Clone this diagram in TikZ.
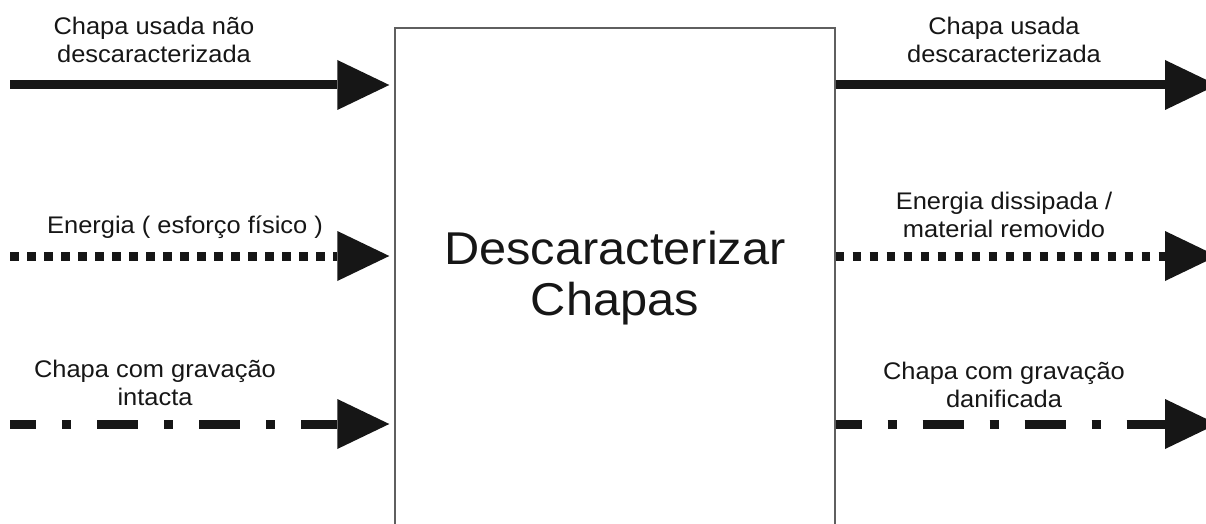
\documentclass[tikz,border=0pt]{standalone}
\usepackage{fontspec}
\setmainfont[FakeStretch=1.06]{Liberation Sans}
\usepackage{tikz}
\usetikzlibrary{arrows.meta}

\definecolor{boxgray}{RGB}{95,95,95}
\definecolor{inkblack}{RGB}{22,22,22}

\tikzset{
  flowlbl/.style={align=center, inner sep=0pt, anchor=base, text=inkblack,
    font=\fontsize{24}{28}\selectfont},
  procbox/.style={draw=boxgray, line width=1.4pt, minimum width=440pt,
    minimum height=500pt, inner sep=0pt, align=center, text=inkblack,
    font=\fontsize{46}{51}\selectfont},
  flow/.style={line width=9pt, draw=inkblack,
    -{Triangle[length=52pt,width=50pt,line width=0pt 0]}},
  solidflow/.style={flow},
  dotflow/.style={flow, dash pattern=on 8.5pt off 8.5pt},
  dashdotflow/.style={flow, dash pattern=on 41pt off 26pt on 9pt off 26pt, dash phase=15pt},
}

\begin{document}
\begin{tikzpicture}[x=1pt,y=-1pt]
  \useasboundingbox (0,0) rectangle (1206,524);

  % the process block, open at the bottom
  \node[procbox] (box) at (615,278) {Descaracterizar\\Chapas};

  % inputs (base = last line)
  \draw (154,63) node[flowlbl] (lblInA) {Chapa usada não\\descaracterizada};
  \draw (185,233) node[flowlbl] (lblInB) {Energia ( esforço físico )};
  \draw (155,405) node[flowlbl] (lblInC) {Chapa com gravação\\intacta};

  % outputs
  \draw (1004,63) node[flowlbl] (lblOutA) {Chapa usada\\descaracterizada};
  \draw (1004,237) node[flowlbl] (lblOutB) {Energia dissipada /\\material removido};
  \draw (1004,407) node[flowlbl] (lblOutC) {Chapa com gravação\\danificada};

  \coordinate (inA) at (10,85);
  \coordinate (inB) at (10,256);
  \coordinate (inC) at (10,424);
  \coordinate (outA) at (1217,85);
  \coordinate (outB) at (1217,256);
  \coordinate (outC) at (1217,424);

  \draw[solidflow, shorten >=5pt] (inA) -- (box.west |- inA);
  \draw[dotflow, shorten >=5pt] (inB) -- (box.west |- inB);
  \draw[dashdotflow, shorten >=5pt] (inC) -- (box.west |- inC);

  \draw[solidflow] (box.east |- outA) -- (outA);
  \draw[dotflow] (box.east |- outB) -- (outB);
  \draw[dashdotflow] (box.east |- outC) -- (outC);
\end{tikzpicture}
\end{document}
